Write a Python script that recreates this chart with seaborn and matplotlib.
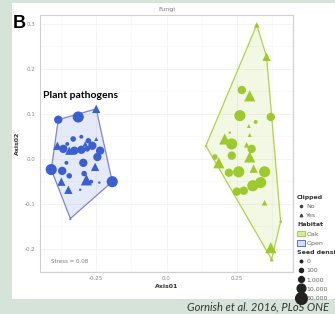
import numpy as np
import pandas as pd
import matplotlib
matplotlib.use('Agg')
import matplotlib.pyplot as plt
from matplotlib.patches import Rectangle, Polygon, Patch
from matplotlib.lines import Line2D
import seaborn as sns

# NMDS scores
open_ax1 = [-0.385, -0.314, -0.250, -0.410, -0.193, -0.342, -0.388, -0.367, -0.346, -0.328,
            -0.303, -0.282, -0.264, -0.332, -0.303, -0.278, -0.250, -0.353, -0.289, -0.371,
            -0.374, -0.349, -0.346, -0.296, -0.293, -0.285, -0.268, -0.246, -0.236, -0.254,
            -0.307, -0.239, -0.356]
open_ax2 = [0.087, 0.093, 0.111, -0.024, -0.051, -0.133, 0.029, 0.022, 0.018, 0.018,
            0.020, 0.022, 0.029, 0.044, 0.049, 0.040, 0.044, 0.033, 0.033, -0.027,
            -0.051, -0.069, -0.038, -0.009, -0.033, -0.047, -0.051, 0.004, 0.018, -0.018,
            -0.069, -0.053, -0.009]
open_clip = ['No', 'No', 'Yes', 'No', 'No', 'Yes', 'Yes', 'No', 'Yes', 'No',
             'No', 'No', 'No', 'No', 'No', 'No', 'Yes', 'No', 'Yes', 'No',
             'Yes', 'Yes', 'No', 'No', 'No', 'Yes', 'No', 'No', 'No', 'Yes',
             'No', 'No', 'No']
open_dens = [10000, 50000, 10000, 50000, 50000, 0, 10000, 10000, 10000, 10000,
             10000, 1000, 10000, 1000, 100, 1000, 100, 100, 1000, 10000,
             10000, 10000, 1000, 10000, 1000, 50000, 100, 10000, 10000, 10000,
             0, 0, 100]

oak_ax1 = [0.321, 0.356, 0.268, 0.296, 0.261, 0.371, 0.317, 0.293, 0.296, 0.207,
           0.232, 0.140, 0.225, 0.303, 0.232, 0.186, 0.296, 0.257, 0.222, 0.349,
           0.310, 0.307, 0.335, 0.275, 0.250, 0.349, 0.371, 0.374, 0.406, 0.285,
           0.172]
oak_ax2 = [0.298, 0.227, 0.153, 0.140, 0.096, 0.093, 0.082, 0.073, 0.053, 0.044,
           0.033, 0.029, 0.058, 0.022, 0.007, -0.009, 0.004, -0.029, -0.031, -0.029,
           -0.022, -0.060, -0.053, -0.071, -0.073, -0.098, -0.198, -0.224, -0.140, 0.031,
           0.004]
oak_clip = ['Yes', 'Yes', 'No', 'Yes', 'No', 'No', 'No', 'Yes', 'Yes', 'Yes',
            'No', 'Yes', 'No', 'No', 'No', 'Yes', 'Yes', 'No', 'No', 'No',
            'Yes', 'No', 'No', 'No', 'No', 'Yes', 'Yes', 'Yes', 'No', 'Yes',
            'No']
oak_dens = [1000, 10000, 10000, 50000, 50000, 10000, 100, 100, 100, 50000,
            50000, 0, 0, 10000, 10000, 50000, 50000, 50000, 10000, 50000,
            10000, 50000, 50000, 10000, 10000, 1000, 50000, 100, 0, 1000,
            1000]

x_ticks = [-0.25, 0.0, 0.25]
x_ticklabels = ['-0.25', '0.0', '0.25']
y_ticks = [-0.2, -0.1, 0.0, 0.1, 0.2, 0.3]
y_ticklabels = ['-0.2', '-0.1', '0.0', '0.1', '0.2', '0.3']
dens_levels = [0, 100, 1000, 10000, 50000]
dens_labels = ['0', '100', '1,000', '10,000', '50,000']

df = pd.concat([
    pd.DataFrame({'Axis01': open_ax1, 'Axis02': open_ax2, 'Clipped': open_clip,
                  'Seed density': open_dens, 'Habitat': 'Open'}),
    pd.DataFrame({'Axis01': oak_ax1, 'Axis02': oak_ax2, 'Clipped': oak_clip,
                  'Seed density': oak_dens, 'Habitat': 'Oak'}),
], ignore_index=True)

blue = '#3b5fd0'
green = '#9cc92c'
pal = {'Open': blue, 'Oak': green}
sizes = {0: 3, 100: 8, 1000: 16, 10000: 36, 50000: 64}

sns.set_style('white')

fig = plt.figure(figsize=(3.35, 3.14), dpi=100)
fig.patch.set_facecolor('#d6e3d9')
fig.add_artist(Rectangle((12/335, 15/314), 1 - 12/335, 296/314,
                         transform=fig.transFigure, facecolor='white',
                         edgecolor='none', zorder=0))

ax = fig.add_axes([40/335, 42/314, 253/335, 257/314])
ax.set_facecolor('white')

# convex hulls per habitat
def hull(pts):
    pts = sorted(set(pts))
    def cross(o, a, b):
        return (a[0]-o[0])*(b[1]-o[1]) - (a[1]-o[1])*(b[0]-o[0])
    lower, upper = [], []
    for p in pts:
        while len(lower) >= 2 and cross(lower[-2], lower[-1], p) <= 0:
            lower.pop()
        lower.append(p)
    for p in reversed(pts):
        while len(upper) >= 2 and cross(upper[-2], upper[-1], p) <= 0:
            upper.pop()
        upper.append(p)
    return lower[:-1] + upper[:-1]

edge = {'Open': '#7d88c4', 'Oak': '#b2d24a'}
fill = {'Open': (0.23, 0.37, 0.82, 0.13), 'Oak': (0.61, 0.79, 0.17, 0.13)}
for h, g in df.groupby('Habitat'):
    poly = hull(list(zip(g['Axis01'], g['Axis02'])))
    ax.add_patch(Polygon(poly, closed=True, facecolor=fill[h],
                         edgecolor=edge[h], lw=0.9, zorder=1))

sns.scatterplot(data=df, x='Axis01', y='Axis02', hue='Habitat', palette=pal,
                style='Clipped', markers={'No': 'o', 'Yes': '^'},
                size='Seed density', sizes=sizes, linewidth=0,
                legend=False, ax=ax, zorder=3)

ax.set_xlim(-0.45, 0.45)
ax.set_ylim(-0.252, 0.32)
ax.set_xticks(x_ticks)
ax.set_xticklabels(x_ticklabels)
ax.set_yticks(y_ticks)
ax.set_yticklabels(y_ticklabels)
ax.tick_params(labelsize=4, colors='#888888', length=2, width=0.5, pad=1)
ax.set_xticks([-0.375, -0.125, 0.125, 0.375], minor=True)
ax.set_yticks([-0.25, -0.15, -0.05, 0.05, 0.15, 0.25], minor=True)
ax.grid(True, which='major', color='#f0f0f0', lw=0.5)
ax.grid(True, which='minor', color='#f6f6f6', lw=0.4)
ax.tick_params(which='minor', length=0)
for s in ax.spines.values():
    s.set_color('#d0d0d0')
    s.set_linewidth(0.8)
ax.set_xlabel('Axis01', fontsize=4.5, color='#333333', fontweight='bold', labelpad=2)
ax.set_ylabel('Axis02', fontsize=4.5, color='#333333', fontweight='bold', labelpad=4)
ax.set_title('Fungi', fontsize=4.5, color='#777777', pad=3)
ax.text(-0.41, -0.232, 'Stress = 0.08', fontsize=4, color='#777777')

fig.text(43/335, 1 - 95/314, 'Plant pathogens', fontsize=7.5, fontweight='bold',
         family='Lato', color='black', va='center')
fig.text(13/335, 1 - 24/314, 'B', fontsize=13, fontweight='bold',
         family='Liberation Sans', color='black', va='center')
fig.text(329/335, 7/314, 'Gornish et al. 2016, PLoS ONE', fontsize=8,
         style='italic', family='Lato', color='#333333', ha='right', va='center')

# legend (ggplot-like)
blank = Line2D([], [], linestyle='none')
handles = [blank,
           Line2D([], [], marker='o', ls='none', color='#444444', ms=1.6),
           Line2D([], [], marker='^', ls='none', color='#444444', ms=1.8),
           blank,
           Patch(facecolor=(0.61, 0.79, 0.17, 0.4), edgecolor=green, lw=0.6),
           Patch(facecolor=(0.23, 0.37, 0.82, 0.2), edgecolor=blue, lw=0.6),
           blank]
labels = ['Clipped', 'No', 'Yes', 'Habitat', 'Oak', 'Open', 'Seed density']
for lev, lab in zip(dens_levels, dens_labels):
    handles.append(Line2D([], [], marker='o', ls='none', color='#222222',
                          ms=np.sqrt(sizes[lev]) * 1.05))
    labels.append(lab)
leg = fig.legend(handles, labels, loc='upper left', bbox_to_anchor=(297/335, 1 - 194/314),
                 fontsize=4.5, frameon=False, labelspacing=0.52, handlelength=1.2,
                 handletextpad=0.3, borderpad=0, borderaxespad=0, handleheight=1.0)
for t, lab in zip(leg.get_texts(), labels):
    if lab in ('Clipped', 'Habitat', 'Seed density'):
        t.set_fontweight('bold')
        t.set_color('#333333')
        t.set_position((-9.5, 0))
    else:
        t.set_color('#666666')

fig.savefig('out.png', dpi=100, facecolor=fig.get_facecolor())
